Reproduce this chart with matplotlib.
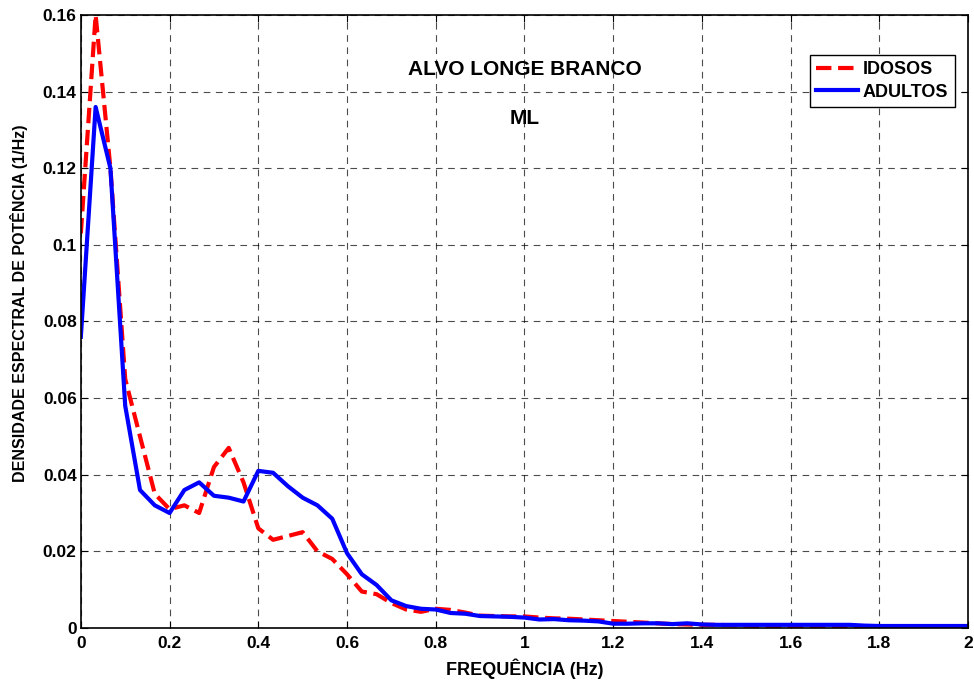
import matplotlib.pyplot as plt
from matplotlib.ticker import FuncFormatter

plt.rcParams['font.family'] = ['Liberation Sans', 'DejaVu Sans']
plt.rcParams['font.weight'] = 'bold'

# frequencias em passos de 1/30 Hz
freq = [k / 30 for k in range(61)]

idosos = [0.103, 0.160, 0.120, 0.065, 0.050, 0.035, 0.031, 0.032, 0.030, 0.042,
          0.047, 0.038, 0.026, 0.023, 0.024, 0.025, 0.020, 0.018, 0.014, 0.0095,
          0.0088, 0.0065, 0.0048, 0.0042, 0.0050, 0.0047, 0.0040, 0.0032, 0.0031, 0.0030,
          0.0030, 0.0027, 0.0025, 0.0024, 0.0022, 0.0020, 0.0018, 0.0016, 0.0014, 0.0012,
          0.0010, 0.0009, 0.0008, 0.0008, 0.0007, 0.0006, 0.0005, 0.0005, 0.0004, 0.0004,
          0.0004, 0.0004, 0.0004, 0.0003, 0.0003, 0.0003, 0.0003, 0.0003, 0.0003, 0.0003,
          0.0003]

adultos = [0.076, 0.136, 0.120, 0.058, 0.036, 0.032, 0.030, 0.036, 0.038, 0.0345,
           0.034, 0.033, 0.041, 0.0405, 0.037, 0.034, 0.032, 0.0285, 0.0195, 0.014,
           0.0112, 0.0072, 0.0057, 0.0050, 0.0048, 0.0039, 0.0037, 0.0031, 0.0030, 0.0029,
           0.0027, 0.0022, 0.0023, 0.0020, 0.0019, 0.0017, 0.0011, 0.0011, 0.0012, 0.0012,
           0.0010, 0.0012, 0.0009, 0.0008, 0.0008, 0.0008, 0.0008, 0.0008, 0.0008, 0.0008,
           0.0008, 0.0008, 0.0008, 0.0006, 0.0005, 0.0005, 0.0005, 0.0005, 0.0005, 0.0005,
           0.0005]

fig = plt.figure(figsize=(9.74, 6.84), dpi=100)
ax = fig.add_axes([0.083, 0.082, 0.911, 0.896])

ax.plot(freq, idosos, color='red', linestyle='--', linewidth=3, label='IDOSOS')
ax.plot(freq, adultos, color='blue', linestyle='-', linewidth=3, label='ADULTOS')

ax.set_xlim(0, 2)
ax.set_ylim(0, 0.16)
ax.set_xticks([0, 0.2, 0.4, 0.6, 0.8, 1, 1.2, 1.4, 1.6, 1.8, 2])
ax.set_yticks([0, 0.02, 0.04, 0.06, 0.08, 0.1, 0.12, 0.14, 0.16])
fmt = FuncFormatter(lambda v, p: '%g' % v)
ax.xaxis.set_major_formatter(fmt)
ax.yaxis.set_major_formatter(fmt)
ax.tick_params(direction='in', labelsize=12.5, top=True, right=True, length=5)
ax.tick_params(axis='x', pad=6)
ax.tick_params(axis='y', pad=3)
for lab in ax.get_xticklabels() + ax.get_yticklabels():
    lab.set_fontweight('bold')

ax.grid(True, color='black', linestyle=(0, (6, 5)), linewidth=0.8, alpha=0.7)
for s in ax.spines.values():
    s.set_linewidth(1.2)

ax.set_xlabel('FREQUÊNCIA (Hz)', fontsize=13, fontweight='bold')
ax.set_ylabel('DENSIDADE ESPECTRAL DE POTÊNCIA (1/Hz)', fontsize=11.5, fontweight='bold')
ax.xaxis.set_label_coords(0.5, -0.05)
ax.yaxis.set_label_coords(-0.06, 0.53)

ax.text(1.0, 0.1457, 'ALVO LONGE BRANCO', ha='center', va='center', fontsize=15, fontweight='bold')
ax.text(1.0, 0.1331, 'ML', ha='center', va='center', fontsize=15, fontweight='bold')

leg = ax.legend(loc='upper right', bbox_to_anchor=(0.985, 0.935), borderaxespad=0,
                fontsize=13, fancybox=False, edgecolor='black', framealpha=1,
                handlelength=2.3, handletextpad=0.3, borderpad=0.35, labelspacing=0.3)
leg.get_frame().set_linewidth(1)
for t in leg.get_texts():
    t.set_fontweight('bold')

fig.savefig('out.png', dpi=100)
